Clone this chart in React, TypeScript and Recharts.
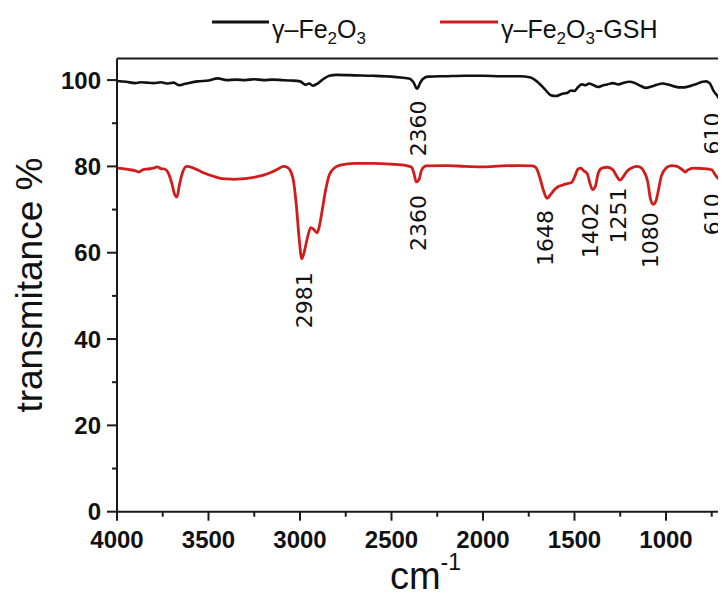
import React from "react";
import {
  LineChart,
  Line,
  XAxis,
  YAxis,
  ReferenceLine,
  ReferenceDot,
  Legend,
  Label,
} from "recharts";

// ---- data (wavenumber in cm^-1, transmittance in %) ----
const blackWavenumbers = [
  4000, 3950, 3900, 3870, 3840, 3800, 3760, 3720, 3690, 3660, 3640, 3600, 3560, 3500, 3450, 3400,
  3350, 3300, 3250, 3200, 3150, 3100, 3050, 3000, 2970, 2950, 2930, 2900, 2870, 2840, 2800, 2700,
  2600, 2500, 2450, 2400, 2380, 2360, 2345, 2330, 2300, 2200, 2100, 2000, 1900, 1800, 1740, 1700,
  1660, 1630, 1600, 1580, 1560, 1540, 1520, 1500, 1480, 1460, 1440, 1420, 1400, 1370, 1350, 1320,
  1290, 1260, 1230, 1200, 1170, 1140, 1110, 1080, 1050, 1020, 990, 960, 930, 900, 870, 840, 800,
  780, 760, 740, 720, 700, 672,
];
const blackTransmittance = [
  99.8, 99.6, 99.3, 99.5, 99.4, 99.3, 99.5, 99.2, 99.4, 98.8, 99.0, 99.4, 99.7, 99.9, 100.4, 100.0,
  100.1, 100.0, 100.2, 100.0, 100.1, 100.0, 99.9, 99.7, 98.9, 99.2, 98.7, 99.3, 100.3, 101.0, 101.2, 101.1,
  101.0, 100.8, 100.6, 100.3, 99.5, 98.0, 99.2, 100.2, 100.8, 100.9, 101.0, 101.0, 100.9, 100.9, 100.6, 99.5,
  97.8, 96.5, 96.3, 96.6, 96.9, 97.0, 97.6, 97.5, 98.4, 99.0, 98.8, 99.2, 98.9, 98.4, 98.7, 99.0,
  99.3, 99.0, 99.4, 99.6, 99.3, 98.7, 98.2, 98.5, 98.9, 99.2, 99.0, 98.6, 98.3, 98.3, 98.6, 99.0, 99.6,
  99.7, 99.2, 97.5, 96.4, 95.3, 95.4,
];

const redWavenumbers = [
  4000, 3970, 3940, 3900, 3880, 3860, 3830, 3800, 3780, 3760, 3740, 3720, 3700, 3685, 3672, 3660,
  3640, 3620, 3600, 3560, 3520, 3480, 3440, 3400, 3360, 3320, 3280, 3240, 3200, 3160, 3120, 3090,
  3070, 3050, 3035, 3020, 3005, 2990, 2975, 2962, 2950, 2940, 2925, 2907, 2895, 2880, 2860, 2840,
  2810, 2780, 2700, 2600, 2500, 2420, 2390, 2375, 2365, 2350, 2335, 2310, 2200, 2100, 2000, 1900,
  1800, 1730, 1710, 1690, 1670, 1650, 1630, 1610, 1590, 1570, 1550, 1530, 1515, 1500, 1480, 1465,
  1450, 1430, 1415, 1400, 1385, 1370, 1350, 1320, 1290, 1270, 1252, 1235, 1215, 1190, 1160, 1140,
  1120, 1100, 1085, 1070, 1055, 1040, 1025, 1000, 970, 940, 910, 895, 880, 850, 800, 770, 750, 730,
  710, 690, 672,
];
const redTransmittance = [
  79.6, 79.5, 79.3, 79.0, 78.7, 79.2, 79.4, 79.6, 79.9, 79.5, 79.4, 78.5, 76.0, 73.5, 72.9, 75.5,
  78.8, 80.0, 79.9, 79.2, 78.4, 77.8, 77.3, 77.1, 77.0, 77.1, 77.3, 77.6, 78.0, 78.6, 79.4, 80.0,
  79.8, 78.8, 76.5, 71.0, 63.5, 58.6, 60.5, 63.0, 65.0, 65.8, 65.4, 64.6, 66.0, 69.5, 74.5, 78.0,
  79.7, 80.3, 80.7, 80.7, 80.5, 80.2, 79.8, 78.0, 76.4, 76.9, 79.2, 80.1, 80.2, 80.0, 79.9, 80.1,
  80.2, 80.1, 79.7, 77.5, 74.5, 72.6, 73.5, 74.6, 75.3, 75.6, 75.9, 76.1, 76.3, 77.5, 79.4, 79.6,
  79.0, 78.3, 76.0, 74.6, 75.5, 78.5, 79.6, 79.8, 79.2, 77.8, 76.8, 77.5, 78.8, 79.6, 80.0, 79.8,
  78.8, 76.5, 72.5, 71.2, 72.0, 74.8, 77.8, 79.6, 80.2, 80.0, 79.2, 78.7, 79.2, 79.6, 79.5, 79.4, 79.2, 78.0,
  77.0, 76.5, 76.2,
];

// peak annotations: x = wavenumber, y = transmittance at top of the rotated label
const annotationTexts = ["2360", "610", "2981", "2360", "1648", "1402", "1251", "1080", "610"];
const annotationWavenumbers = [2355, 745, 2978, 2355, 1656, 1410, 1257, 1082, 745];
const annotationLevels = [95.3, 92.5, 55.5, 73.4, 69.9, 71.7, 75.1, 69.4, 73.8];

const xTicks = [4000, 3750, 3500, 3250, 3000, 2750, 2500, 2250, 2000, 1750, 1500, 1250, 1000, 750];
const yTicks = [0, 10, 20, 30, 40, 50, 60, 70, 80, 90, 100];

const seriesNames = ["γ–Fe2O3", "γ–Fe2O3-GSH"];
const seriesColors = ["#111111", "#d11c1c"];

const blackData = blackWavenumbers.map((wn, i) => ({ wn, t: blackTransmittance[i] }));
const redData = redWavenumbers.map((wn, i) => ({ wn, t: redTransmittance[i] }));

const AXIS_COLOR = "#1a1a1a";

const XTick = (props: any) => {
  const { x, y, payload } = props;
  const v = payload.value;
  const major = v % 500 === 0;
  return (
    <g>
      <line x1={x} x2={x} y1={y} y2={y + (major ? 9 : 5)} stroke={AXIS_COLOR} strokeWidth={2} />
      {major && (
        <text
          x={x}
          y={y + 36}
          textAnchor="middle"
          fontFamily="'Liberation Sans', Arial, sans-serif"
          fontWeight="bold"
          fontSize={24}
          fill="#111"
        >
          {v}
        </text>
      )}
    </g>
  );
};

const YTick = (props: any) => {
  const { x, y, payload } = props;
  const v = payload.value;
  const major = v % 20 === 0;
  return (
    <g>
      <line x1={x - (major ? 10 : 5)} x2={x} y1={y} y2={y} stroke={AXIS_COLOR} strokeWidth={2} />
      {major && (
        <text
          x={x - 16}
          y={y}
          dy="0.36em"
          textAnchor="end"
          fontFamily="'Liberation Sans', Arial, sans-serif"
          fontWeight="bold"
          fontSize={24}
          fill="#111"
        >
          {v}
        </text>
      )}
    </g>
  );
};

const LegendName = ({ name, x }: { name: string; x: number }) => {
  // split "γ–Fe2O3..." into normal text and subscript digits
  const base = name.slice(0, 4); // γ–Fe
  const rest = name.slice(4); // 2O3...
  return (
    <text x={x} y={30} fontFamily="'Liberation Sans', Arial, sans-serif" fontSize={25} fill="#111">
      {base}
      <tspan fontSize={17} dy={6}>{rest[0]}</tspan>
      <tspan fontSize={25} dy={-6}>{rest[1]}</tspan>
      <tspan fontSize={17} dy={6}>{rest[2]}</tspan>
      <tspan fontSize={25} dy={-6}>{rest.slice(3)}</tspan>
    </text>
  );
};

const LegendContent = () => (
  <svg width={718} height={40} style={{ display: "block" }}>
    <line x1={204} x2={261} y1={14} y2={14} stroke={seriesColors[0]} strokeWidth={3} />
    <LegendName name={seriesNames[0]} x={264} />
    <line x1={432} x2={490} y1={14} y2={14} stroke={seriesColors[1]} strokeWidth={3} />
    <LegendName name={seriesNames[1]} x={493} />
  </svg>
);

const makeAnnoLabel = (text: string) => (props: any) => {
  const vb = props.viewBox || {};
  const x = (vb.x ?? 0) + (vb.width ?? 0) / 2;
  const y = (vb.y ?? 0) + (vb.height ?? 0) / 2;
  return (
    <text
      x={x}
      y={y}
      transform={`rotate(-90 ${x} ${y})`}
      textAnchor="end"
      dominantBaseline="central"
      fontFamily="'DejaVu Sans', sans-serif"
      fontSize={22}
      fill="#111"
    >
      {text}
    </text>
  );
};

const YAxisTitle = (props: any) => {
  const vb = props.viewBox || { y: 0, height: 0 };
  const cy = vb.y + vb.height / 2;
  const bx = 34;
  return (
    <text
      x={bx}
      y={cy}
      transform={`rotate(-90 ${bx} ${cy})`}
      textAnchor="middle"
      fontFamily="'Liberation Sans', Arial, sans-serif"
      fontSize={37}
      fill="#111"
    >
      transmitance %
    </text>
  );
};

const XAxisTitle = (props: any) => {
  const vb = props.viewBox || { x: 0, width: 0, y: 0 };
  const cx = vb.x + vb.width / 2 + 4;
  return (
    <text
      x={cx}
      y={vb.y + 77}
      textAnchor="middle"
      fontFamily="'Liberation Sans', Arial, sans-serif"
      fontSize={38}
      fill="#111"
    >
      cm
      <tspan fontSize={23} dy={-19}>-1</tspan>
    </text>
  );
};

export default function App() {
  return (
    <div style={{ width: 710, height: 581 }}>
      <LineChart
        width={718}
        height={589}
        margin={{ top: 10.5, right: 0, bottom: 0, left: 0 }}
      >
        <Legend
          verticalAlign="top"
          align="left"
          wrapperStyle={{ top: 0, left: 0 }}
          content={LegendContent}
        />
        <XAxis
          type="number"
          dataKey="wn"
          domain={[672, 4000]}
          reversed
          allowDataOverflow
          ticks={xTicks}
          interval={0}
          height={85.3}
          tickSize={0}
          tickMargin={0}
          tickLine={false}
          tick={<XTick />}
          axisLine={{ stroke: AXIS_COLOR, strokeWidth: 2 }}
        >
          <Label content={XAxisTitle} />
        </XAxis>
        <YAxis
          type="number"
          dataKey="t"
          domain={[0, 105]}
          allowDataOverflow
          ticks={yTicks}
          interval={0}
          width={109}
          tickSize={0}
          tickMargin={0}
          tickLine={false}
          tick={<YTick />}
          axisLine={{ stroke: AXIS_COLOR, strokeWidth: 2 }}
        >
          <Label content={YAxisTitle} />
        </YAxis>
        <ReferenceLine y={105} stroke={AXIS_COLOR} strokeWidth={2} ifOverflow="visible" />
        <Line
          data={blackData}
          dataKey="t"
          name={seriesNames[0]}
          stroke={seriesColors[0]}
          strokeWidth={2.6}
          dot={false}
          type="monotone"
          isAnimationActive={false}
        />
        <Line
          data={redData}
          dataKey="t"
          name={seriesNames[1]}
          stroke={seriesColors[1]}
          strokeWidth={2.8}
          dot={false}
          type="monotone"
          isAnimationActive={false}
        />
        {annotationTexts.map((text, i) => (
          <ReferenceDot
            key={i}
            x={annotationWavenumbers[i]}
            y={annotationLevels[i]}
            r={0}
            fill="none"
            stroke="none"
            ifOverflow="visible"
            label={makeAnnoLabel(text)}
          />
        ))}
      </LineChart>
    </div>
  );
}
